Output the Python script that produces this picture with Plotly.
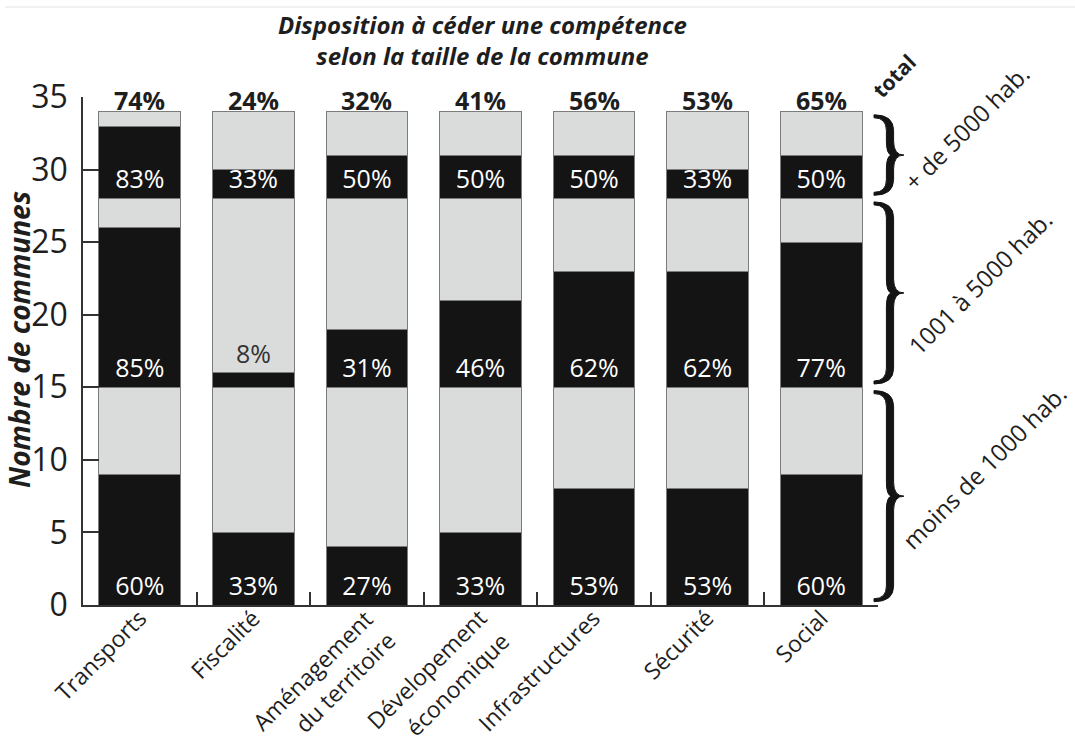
import plotly.graph_objects as go

# Categories (x axis) and commune groups
categories = ["Transports", "Fiscalité", "Aménagement<br>du territoire",
              "Dévelopement<br>économique", "Infrastructures", "Sécurité", "Social"]
group_names = ["moins de 1000 hab.", "1001 à 5000 hab.", "+ de 5000 hab."]
group_sizes = [15, 13, 6]

# Number of communes willing to transfer the competence, per group
yes_small = [9, 5, 4, 5, 8, 8, 9]
yes_mid = [11, 1, 4, 6, 8, 8, 10]
yes_large = [5, 2, 3, 3, 3, 2, 3]

yes_by_group = [yes_small, yes_mid, yes_large]

FONT = "Open Sans"
BLACK = "#141414"
GREY = "#dadcdb"
EDGE = "#7c7c7c"
TXT = "#1e1e1e"

# plot geometry (pixels)
W, H = 1075, 744
ML, MR, MT, MB = 83, 197, 97, 139
PW, PH = W - ML - MR, H - MT - MB
YMAX = 35
PPU = PH / YMAX  # pixels per unit on the y axis
D45 = 0.7071


def paper_x(px):
    return (px - ML) / PW


def paper_y(py):
    return (H - MB - py) / PH


fig = go.Figure()

bases = [sum(group_sizes[:i]) for i in range(len(group_sizes))]

for g, (size, yes) in enumerate(zip(group_sizes, yes_by_group)):
    no = [size - v for v in yes]
    fig.add_trace(go.Bar(x=categories, y=yes, width=0.72, marker_color=BLACK,
                         marker_line=dict(color=EDGE, width=1), showlegend=False,
                         hoverinfo="skip"))
    fig.add_trace(go.Bar(x=categories, y=no, width=0.72, marker_color=GREY,
                         marker_line=dict(color=EDGE, width=1), showlegend=False,
                         hoverinfo="skip"))

# percentage labels for each group
for g, (size, yes) in enumerate(zip(group_sizes, yes_by_group)):
    base = bases[g]
    ys, cols, txt = [], [], []
    for v in yes:
        pct = round(100 * v / size)
        txt.append(f"{pct}%")
        if v >= 2:
            ys.append(base + 1.15)
            cols.append("#ffffff")
        else:
            ys.append(base + v + 1.1)
            cols.append("#333333")
    fig.add_trace(go.Scatter(x=categories, y=ys, mode="text", text=txt,
                             textfont=dict(family=FONT, size=25, color=cols),
                             cliponaxis=False, showlegend=False, hoverinfo="skip"))

total = sum(group_sizes)
annotations = []
for i, cat in enumerate(categories):
    t = sum(grp[i] for grp in yes_by_group)
    annotations.append(dict(x=cat, y=34.8, xref="x", yref="y", showarrow=False,
                            text=f"<b>{round(100 * t / total)}%</b>",
                            font=dict(family=FONT, size=25, color=TXT),
                            xanchor="center", yanchor="middle"))

# category labels, rotated 45 degrees, one annotation per line (right-aligned)
XFS = 23
box_h = XFS * 1.36
hh = box_h / 2 * D45
line_step = 32 * D45
for cat in categories:
    for k, line in enumerate(cat.split("<br>")):
        annotations.append(dict(x=cat, y=0, xref="x", yref="paper", showarrow=False,
                                text=line, textangle=-45, borderpad=0,
                                font=dict(family=FONT, size=XFS, color=TXT),
                                xanchor="right", yanchor="top",
                                xshift=3 + k * line_step + hh,
                                yshift=-(7 + k * line_step) + hh))

# title
annotations.append(dict(x=paper_x(482), y=paper_y(40), xref="paper", yref="paper",
                        showarrow=False,
                        text="<b><i>Disposition à céder une compétence<br>"
                             "selon la taille de la commune</i></b>",
                        font=dict(family=FONT, size=24, color=TXT),
                        xanchor="center", yanchor="middle"))

# y axis title
annotations.append(dict(x=paper_x(19), y=paper_y(340), xref="paper", yref="paper",
                        showarrow=False, text="<b><i>Nombre de communes</i></b>",
                        textangle=-90, font=dict(family=FONT, size=28, color=TXT),
                        xanchor="center", yanchor="middle"))

# "total" header
annotations.append(dict(x=paper_x(894), y=paper_y(76), xref="paper", yref="paper",
                        showarrow=False, text="<b>total</b>", textangle=-45,
                        font=dict(family=FONT, size=21, color=TXT),
                        xanchor="center", yanchor="middle"))

# curly braces on the right of each commune group
shapes = []
x_end = ML + PW - 4
x_sp = ML + PW + 12
x_tip = ML + PW + 26
r = 14
half = 3.6
label_shift = [(80, 30), (76, 10), (62, 28)]
for g, size in enumerate(group_sizes):
    lo = bases[g] + 0.35
    hi = bases[g] + size - 0.35
    ytop = H - MB - hi * PPU
    ybot = H - MB - lo * PPU
    ymid = (ytop + ybot) / 2

    def P(px, py):
        return f"{paper_x(px):.5f},{paper_y(py):.5f}"

    path = (
        f"M {P(x_end, ytop - 1.8)} "
        f"Q {P(x_sp + half, ytop - 1.8)} {P(x_sp + half, ytop + r)} "
        f"L {P(x_sp + half, ymid - r)} "
        f"Q {P(x_sp + half, ymid)} {P(x_tip, ymid)} "
        f"Q {P(x_sp + half, ymid)} {P(x_sp + half, ymid + r)} "
        f"L {P(x_sp + half, ybot - r)} "
        f"Q {P(x_sp + half, ybot + 1.8)} {P(x_end, ybot + 1.8)} "
        f"L {P(x_end, ybot - 1.2)} "
        f"Q {P(x_sp - half, ybot - 1.2)} {P(x_sp - half, ybot - r)} "
        f"L {P(x_sp - half, ymid + r)} "
        f"Q {P(x_sp - half, ymid)} {P(x_sp + 2, ymid)} "
        f"Q {P(x_sp - half, ymid)} {P(x_sp - half, ymid - r)} "
        f"L {P(x_sp - half, ytop + r)} "
        f"Q {P(x_sp - half, ytop + 1.2)} {P(x_end, ytop + 1.2)} Z"
    )
    shapes.append(dict(type="path", path=path, xref="paper", yref="paper",
                       fillcolor=BLACK, line=dict(color=BLACK, width=1), layer="above"))

    dx, dy = label_shift[g]
    annotations.append(dict(x=paper_x(x_tip + dx), y=paper_y(ymid - dy),
                            xref="paper", yref="paper", showarrow=False,
                            text=group_names[g], textangle=-45,
                            font=dict(family=FONT, size=24, color=TXT),
                            xanchor="center", yanchor="middle"))

# faint rule along the top
shapes.append(dict(type="line", xref="paper", yref="paper",
                   x0=paper_x(5), x1=paper_x(W), y0=paper_y(7), y1=paper_y(7),
                   line=dict(color="#e2e2e2", width=1)))

fig.update_layout(
    width=W, height=H,
    margin=dict(l=ML, r=MR, t=MT, b=MB, pad=0),
    barmode="stack",
    plot_bgcolor="white", paper_bgcolor="white",
    font=dict(family=FONT, color=TXT),
    annotations=annotations,
    shapes=shapes,
    xaxis=dict(range=[-0.5, 6.5], showline=True, linecolor="#333333", linewidth=1.5,
               ticks="inside", tickson="boundaries", ticklen=13, tickwidth=1.5,
               tickcolor="#333333", showticklabels=False, showgrid=False,
               zeroline=False, automargin=False),
    yaxis=dict(range=[0, YMAX], dtick=5, showline=True, linecolor="#333333",
               linewidth=1.5, ticks="inside", ticklen=16, tickwidth=1.5,
               tickcolor="#333333", showgrid=False, zeroline=False,
               ticklabelstandoff=7, automargin=False,
               tickfont=dict(family=FONT, size=32, color=TXT)),
)

fig.write_html("out.html")
